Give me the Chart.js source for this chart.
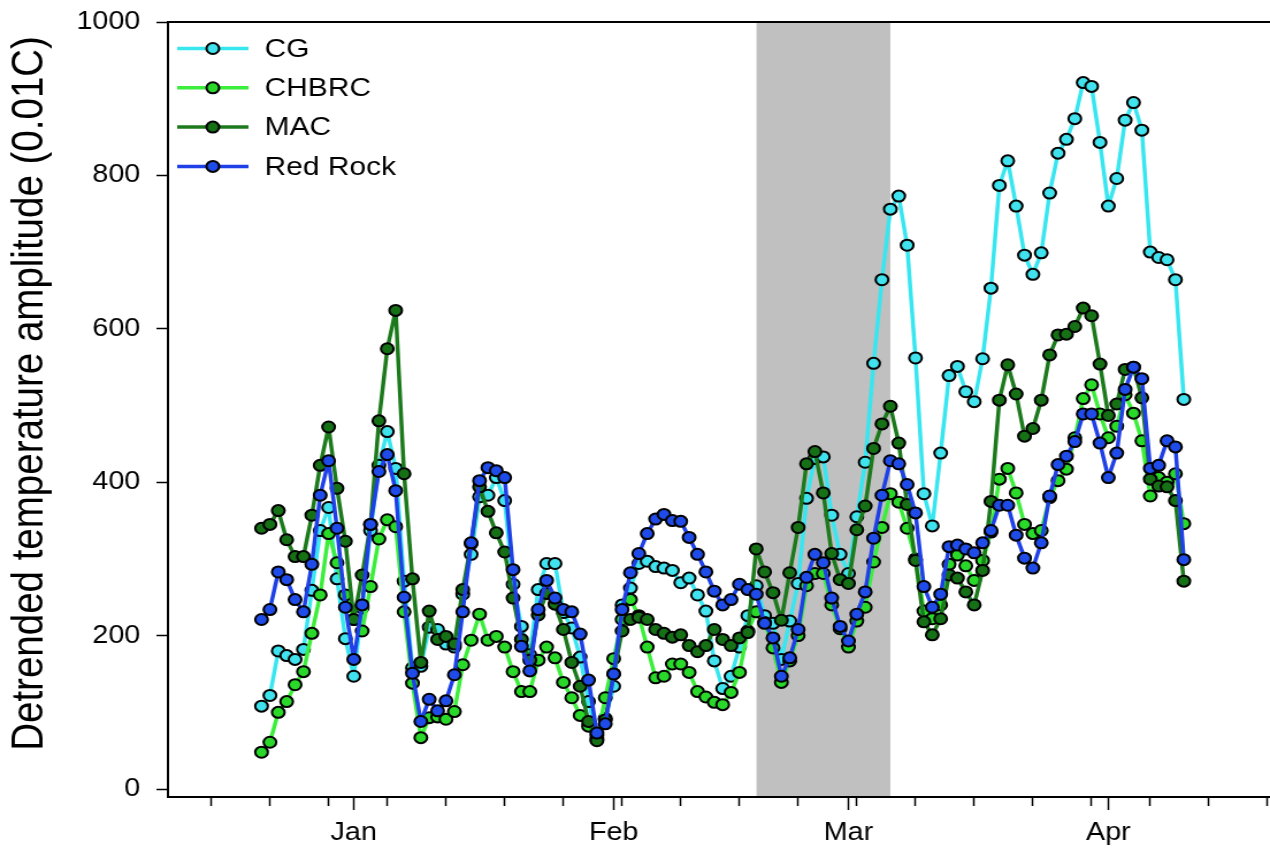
<!DOCTYPE html>
<html>
<head>
<meta charset="utf-8">
<title>Detrended temperature amplitude</title>
<script src="https://cdn.jsdelivr.net/npm/chart.js@4.4.1/dist/chart.umd.min.js"></script>
<style>
    html, body { margin: 0; padding: 0; background: #fff; overflow: hidden; }
    #chart { display: block; }
</style>
</head>
<body>
<!-- the original figure is a bit wider than tall, so the canvas is drawn narrow and stretched -->
<canvas id="chart" width="1104" height="855" style="width:1270px;height:855px"></canvas>
<script>
// x values are days counted from 1 Jan 2015
const firstDay = -11;            // first sample: 21 Dec 2014, one sample per day
const shadeFrom = 48;            // 18 Feb
const shadeTo = 64;              // 6 Mar
const monthTicks = { 0: 'Jan', 31: 'Feb', 59: 'Mar', 90: 'Apr' };
const weekTicks = [-17, -10, -3, 4, 11, 18, 25, 32, 39, 46, 53, 60, 67, 74, 81, 88, 95, 102, 109]; // Mondays
const yTicks = [0, 200, 400, 600, 800, 1000];

const seriesNames = ['CG', 'CHBRC', 'MAC', 'Red Rock'];

const cg = [108, 122, 180, 174, 169, 182, 259, 337, 367, 274,
    196, 147, 236, 337, 422, 466, 418, 271, 158, 160,
    211, 208, 189, 185, 254, 306, 381, 383, 406, 376,
    267, 212, 175, 260, 294, 294, 230, 210, 172, 114,
    70, 92, 134, 240, 262, 294, 297, 290, 288, 285,
    269, 275, 253, 232, 167, 131, 147, 185, 226, 265,
    226, 216, 169, 219, 268, 379, 431, 433, 357, 306,
    281, 355, 426, 555, 664, 756, 773, 709, 562, 385,
    343, 438, 539, 551, 518, 505, 561, 653, 787, 819,
    760, 696, 671, 699, 777, 829, 847, 874, 921, 916,
    843, 760, 796, 872, 895, 859, 700, 693, 690, 664, 508];

const chbrc = [48, 61, 100, 114, 136, 153, 203, 253, 333, 295,
    253, 221, 206, 264, 326, 351, 342, 231, 138, 67,
    93, 94, 91, 101, 162, 194, 228, 194, 199, 185,
    153, 127, 127, 168, 185, 171, 139, 119, 96, 82,
    65, 119, 170, 221, 247, 226, 185, 145, 147, 163,
    163, 152, 127, 120, 113, 110, 126, 152, 206, 231,
    217, 184, 139, 167, 200, 265, 281, 281, 240, 209,
    185, 219, 237, 296, 341, 385, 374, 340, 300, 232,
    222, 240, 293, 305, 291, 272, 298, 335, 404, 418,
    386, 345, 333, 337, 380, 402, 417, 458, 509, 527,
    489, 458, 473, 514, 490, 454, 382, 406, 400, 411, 346];

const mac = [340, 345, 363, 325, 303, 303, 357, 422, 472, 392,
    323, 221, 279, 345, 480, 574, 624, 411, 274, 165,
    232, 195, 199, 189, 260, 320, 394, 362, 334, 309,
    249, 195, 168, 227, 255, 241, 208, 165, 134, 88,
    63, 90, 150, 206, 221, 224, 221, 208, 203, 198,
    201, 187, 179, 187, 208, 195, 187, 197, 204, 313,
    283, 256, 220, 282, 341, 424, 440, 386, 307, 273,
    268, 338, 369, 444, 476, 499, 451, 371, 298, 218,
    201, 222, 279, 275, 257, 240, 285, 375, 507, 553,
    515, 460, 470, 507, 566, 592, 593, 603, 627, 617,
    554, 487, 502, 547, 550, 510, 404, 395, 394, 376, 271];

const redRock = [221, 234, 283, 273, 247, 231, 293, 383, 428, 340,
    237, 169, 240, 345, 414, 436, 389, 250, 151, 88,
    117, 102, 115, 149, 231, 321, 402, 419, 415, 406,
    286, 186, 154, 234, 272, 249, 234, 231, 202, 142,
    73, 85, 150, 234, 282, 307, 333, 352, 358, 350,
    349, 328, 306, 283, 258, 240, 247, 267, 260, 254,
    216, 197, 147, 171, 208, 276, 306, 295, 249, 212,
    193, 228, 257, 327, 383, 428, 424, 397, 360, 264,
    237, 254, 316, 318, 313, 308, 321, 337, 370, 370,
    331, 301, 288, 321, 382, 423, 434, 453, 489, 489,
    451, 406, 438, 521, 550, 535, 418, 422, 454, 446, 299];

Chart.defaults.font.family = "'Liberation Sans', Arial, sans-serif";
Chart.defaults.color = '#000';

function toPoints(values) {
    return values.map((v, i) => ({ x: firstDay + i, y: v }));
}

function series(label, values, lineColor, dotColor, order) {
    return {
        label: label,
        data: toPoints(values),
        order: order, // lower order is drawn on top
        borderColor: lineColor,
        backgroundColor: dotColor,
        borderWidth: 3.5,
        borderJoinStyle: 'round', // no miter spikes on sharp peaks
        borderCapStyle: 'round',
        pointRadius: 5.5,
        pointBackgroundColor: dotColor,
        pointBorderColor: '#000',
        pointBorderWidth: 2,
        fill: false
    };
}

// legend drawn inside the plot, line + dot like the original
const insideLegend = {
    id: 'insideLegend',
    afterDraw(chart) {
        const ctx = chart.ctx;
        ctx.save();
        seriesNames.forEach((name, i) => {
            const ds = chart.data.datasets[i];
            const y = 48.5 + i * 39.3;
            ctx.strokeStyle = ds.borderColor;
            ctx.lineWidth = 3.5;
            ctx.beginPath();
            ctx.moveTo(154, y);
            ctx.lineTo(216, y);
            ctx.stroke();
            ctx.beginPath();
            ctx.arc(185, y, 5.5, 0, Math.PI * 2);
            ctx.fillStyle = ds.pointBackgroundColor;
            ctx.fill();
            ctx.lineWidth = 2;
            ctx.strokeStyle = '#000';
            ctx.stroke();
            ctx.fillStyle = '#000';
            ctx.font = "26px 'Liberation Sans', Arial, sans-serif";
            ctx.textBaseline = 'middle';
            ctx.fillText(name, 230, y + 1);
        });
        ctx.restore();
    }
};

const xMin = -22.16;
const xMax = 109.28;
const xTickValues = weekTicks.concat(Object.keys(monthTicks).map(Number)).sort((a, b) => a - b);

new Chart(document.getElementById('chart'), {
    type: 'line',
    data: {
        datasets: [
            series(seriesNames[0], cg, '#38E6F0', '#40E2EE', 4),
            series(seriesNames[1], chbrc, '#3CEE3C', '#2AD82A', 3),
            series(seriesNames[2], mac, '#1C7A1C', '#167016', 2),
            series(seriesNames[3], redRock, '#1E40E6', '#1F4CE8', 1),
            {
                label: '',
                data: [{ x: shadeFrom, y: 1000 }, { x: shadeTo, y: 1000 }],
                borderColor: 'rgba(0,0,0,0)',
                borderWidth: 0,
                pointRadius: 0,
                backgroundColor: '#C0C0C0',
                fill: 'start',
                order: 10
            }
        ]
    },
    options: {
        responsive: false,
        animation: false,
        events: [],
        layout: { autoPadding: false, padding: { top: 22, right: 0, bottom: 0, left: 0 } },
        plugins: {
            legend: { display: false },
            tooltip: { enabled: false }
        },
        scales: {
            x: {
                type: 'linear',
                bounds: 'data',
                min: xMin,
                max: xMax,
                afterBuildTicks: (scale) => { scale.ticks = xTickValues.map(v => ({ value: v })); },
                afterFit: (scale) => {
                    // fixed size, and no extra room at the ends of the axis
                    scale.height = 58;
                    scale.paddingLeft = 0;
                    scale.paddingRight = 0;
                },
                grid: {
                    drawOnChartArea: false,
                    tickLength: 13,
                    tickWidth: 1.5,
                    tickColor: '#000',
                    // week ticks are short, month ticks long
                    tickBorderDash: (c) => (monthTicks[c.tick && c.tick.value] ? [] : [8, 30])
                },
                border: { color: '#000', width: 2, z: 1 },
                ticks: {
                    autoSkip: false,
                    maxRotation: 0,
                    minRotation: 0,
                    padding: 8,
                    font: { size: 25 },
                    callback: (v) => monthTicks[v] || ''
                }
            },
            xTop: {
                type: 'linear',
                position: 'top',
                bounds: 'data',
                min: xMin,
                max: xMax,
                afterFit: (scale) => {
                    scale.height = 0;
                    scale.paddingLeft = 0;
                    scale.paddingRight = 0;
                },
                grid: { display: false },
                ticks: { display: false },
                border: { color: '#000', width: 2, z: 1 }
            },
            y: {
                type: 'linear',
                bounds: 'data',
                min: -10.4,
                max: 1000,
                afterBuildTicks: (scale) => { scale.ticks = yTicks.map(v => ({ value: v })); },
                afterFit: (scale) => {
                    scale.width = 146;
                    scale.paddingTop = 0;
                    scale.paddingBottom = 0;
                },
                grid: { drawOnChartArea: false, tickLength: 10, tickWidth: 1.5, tickColor: '#000' },
                border: { color: '#000', width: 2, z: 1 },
                ticks: { padding: 14, font: { size: 25 }, callback: (v) => String(v) },
                title: {
                    display: true,
                    // leading no-break spaces nudge the centred title up a little, as in the original
                    text: '\u00a0\u00a0\u00a0Detrended temperature amplitude (0.01C)',
                    font: { size: 38.5 },
                    padding: { top: 3, bottom: 0 }
                }
            }
        }
    },
    plugins: [insideLegend]
});
</script>
</body>
</html>
